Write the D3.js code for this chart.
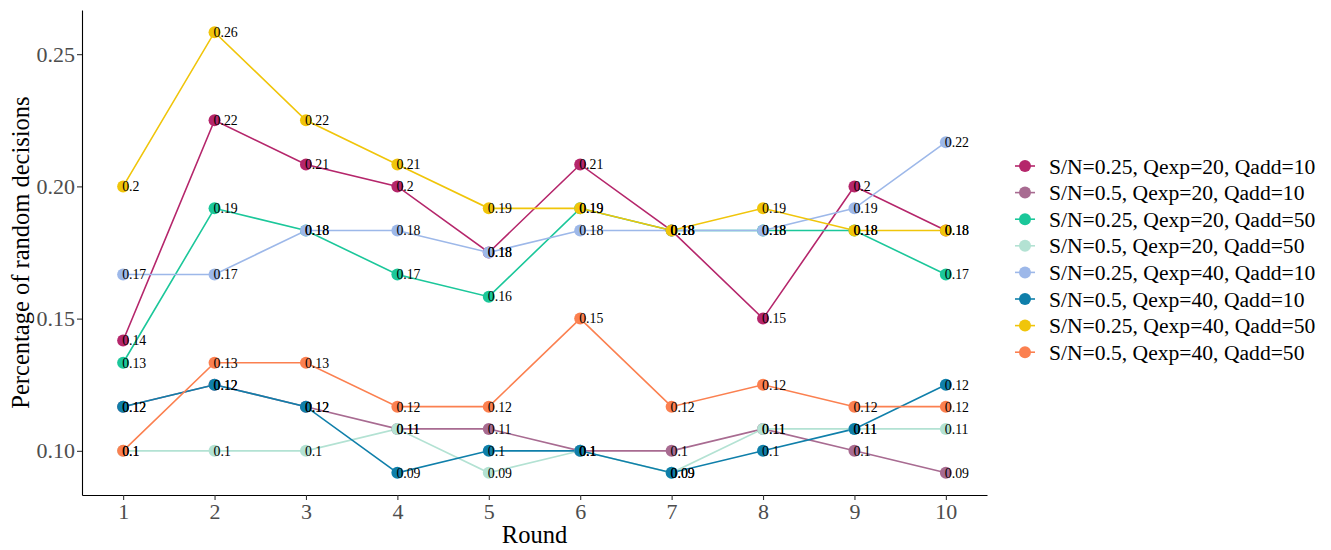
<!DOCTYPE html>
<html>
<head>
<meta charset="utf-8">
<script src="https://cdn.jsdelivr.net/npm/d3@7"></script>
<style>
	body { margin: 0; background: #fff; }
	svg text { font-family: "Liberation Serif", "DejaVu Serif", serif; }
</style>
</head>
<body>
<div id="chart"></div>
<script>
const rounds = [1, 2, 3, 4, 5, 6, 7, 8, 9, 10];
const seriesNames = [
	"S/N=0.25, Qexp=20, Qadd=10",
	"S/N=0.5, Qexp=20, Qadd=10",
	"S/N=0.25, Qexp=20, Qadd=50",
	"S/N=0.5, Qexp=20, Qadd=50",
	"S/N=0.25, Qexp=40, Qadd=10",
	"S/N=0.5, Qexp=40, Qadd=10",
	"S/N=0.25, Qexp=40, Qadd=50",
	"S/N=0.5, Qexp=40, Qadd=50"
];
const seriesColors = ["#b5266b", "#a86b91", "#1bc79a", "#b3e2d3", "#9db8e9", "#0f7faa", "#f0c50a", "#fb8050"];

const sn025q20a10 = [0.1417, 0.225, 0.2083, 0.2, 0.175, 0.2083, 0.1833, 0.15, 0.2, 0.1833];
const sn05q20a10 = [0.1167, 0.125, 0.1167, 0.1083, 0.1083, 0.1, 0.1, 0.1083, 0.1, 0.0917];
const sn025q20a50 = [0.1333, 0.1917, 0.1833, 0.1667, 0.1583, 0.1917, 0.1833, 0.1833, 0.1833, 0.1667];
const sn05q20a50 = [0.1, 0.1, 0.1, 0.1083, 0.0917, 0.1, 0.0917, 0.1083, 0.1083, 0.1083];
const sn025q40a10 = [0.1667, 0.1667, 0.1833, 0.1833, 0.175, 0.1833, 0.1833, 0.1833, 0.1917, 0.2167];
const sn05q40a10 = [0.1167, 0.125, 0.1167, 0.0917, 0.1, 0.1, 0.0917, 0.1, 0.1083, 0.125];
const sn025q40a50 = [0.2, 0.2583, 0.225, 0.2083, 0.1917, 0.1917, 0.1833, 0.1917, 0.1833, 0.1833];
const sn05q40a50 = [0.1, 0.1333, 0.1333, 0.1167, 0.1167, 0.15, 0.1167, 0.125, 0.1167, 0.1167];

const yTicks = [0.10, 0.15, 0.20, 0.25];

const allValues = [sn025q20a10, sn05q20a10, sn025q20a50, sn05q20a50, sn025q40a10, sn05q40a10, sn025q40a50, sn05q40a50];
const series = seriesNames.map((name, i) => ({
	name: name,
	color: seriesColors[i],
	points: rounds.map((r, j) => ({ round: r, value: allValues[i][j] }))
}));

const width = 1331;
const height = 550;
const margin = { left: 82, right: 344, top: 10, bottom: 55 };

// R style rounding (half to even) for the point labels
function labelOf(v) {
	const scaled = v * 100;
	let n = Math.round(scaled);
	const frac = scaled - Math.floor(scaled);
	if (Math.abs(frac - 0.5) < 0.02) {
		const lo = Math.floor(scaled);
		n = lo % 2 === 0 ? lo : lo + 1;
	}
	return String(+(n / 100).toFixed(2));
}

const svg = d3
	.select("#chart")
	.append("svg")
	.attr("width", width)
	.attr("height", height);

const x = d3
	.scaleLinear()
	.domain([0.55, 10.45])
	.range([margin.left, width - margin.right]);

const y = d3
	.scaleLinear()
	.domain([0.0833, 0.2667])
	.range([height - margin.bottom, margin.top]);

// axes
const xAxis = svg
	.append("g")
	.attr("transform", `translate(0, ${height - margin.bottom})`)
	.call(d3.axisBottom(x).tickValues(rounds).tickSizeInner(5).tickSizeOuter(0).tickPadding(3).tickFormat(d3.format("d")));
const yAxis = svg
	.append("g")
	.attr("transform", `translate(${margin.left}, 0)`)
	.call(d3.axisLeft(y).tickValues(yTicks).tickSizeInner(5).tickSizeOuter(0).tickPadding(2).tickFormat(d3.format(".2f")));

[xAxis, yAxis].forEach((a) => {
	a.attr("font-family", null);
	a.select(".domain").attr("stroke", "#000").attr("stroke-width", 1.1);
	a.selectAll(".tick line").attr("stroke", "#333").attr("stroke-width", 1.1);
	a.selectAll(".tick text")
		.attr("fill", "#4d4d4d")
		.style("font-size", "22px");
});

svg.append("text")
	.attr("x", x(5.5))
	.attr("y", 543)
	.attr("text-anchor", "middle")
	.style("font-size", "24.5px")
	.text("Round");

svg.append("text")
	.attr("transform", `translate(29, ${y(0.175)}) rotate(-90)`)
	.attr("text-anchor", "middle")
	.style("font-size", "24.5px")
	.text("Percentage of random decisions");

const line = d3
	.line()
	.x((d) => x(d.round))
	.y((d) => y(d.value));

const plot = svg.append("g");

plot.selectAll(".series-line")
	.data(series)
	.enter()
	.append("path")
	.attr("class", "series-line")
	.attr("fill", "none")
	.attr("stroke", (d) => d.color)
	.attr("stroke-width", 1.6)
	.attr("d", (d) => line(d.points));

series.forEach((s) => {
	plot.selectAll(null)
		.data(s.points)
		.enter()
		.append("circle")
		.attr("cx", (d) => x(d.round))
		.attr("cy", (d) => y(d.value))
		.attr("r", 6)
		.attr("fill", s.color);
});

series.forEach((s) => {
	plot.selectAll(null)
		.data(s.points)
		.enter()
		.append("text")
		.attr("x", (d) => x(d.round) - 1)
		.attr("y", (d) => y(d.value))
		.attr("dy", "0.35em")
		.style("font-size", "13.8px")
		.attr("fill", "#000")
		.text((d) => labelOf(d.value));
});

// legend
const legend = svg
	.selectAll(".legend")
	.data(series)
	.enter()
	.append("g")
	.attr("class", "legend")
	.attr("transform", (_d, i) => `translate(1015, ${166 + i * 26.6})`);

legend.append("line")
	.attr("x1", 0)
	.attr("x2", 20)
	.attr("stroke", (d) => d.color)
	.attr("stroke-width", 1.6);
legend.append("circle")
	.attr("cx", 10)
	.attr("r", 6)
	.attr("fill", (d) => d.color);
legend.append("text")
	.attr("x", 34)
	.attr("dy", "0.35em")
	.style("font-size", "21.6px")
	.text((d) => d.name);
</script>
</body>
</html>
